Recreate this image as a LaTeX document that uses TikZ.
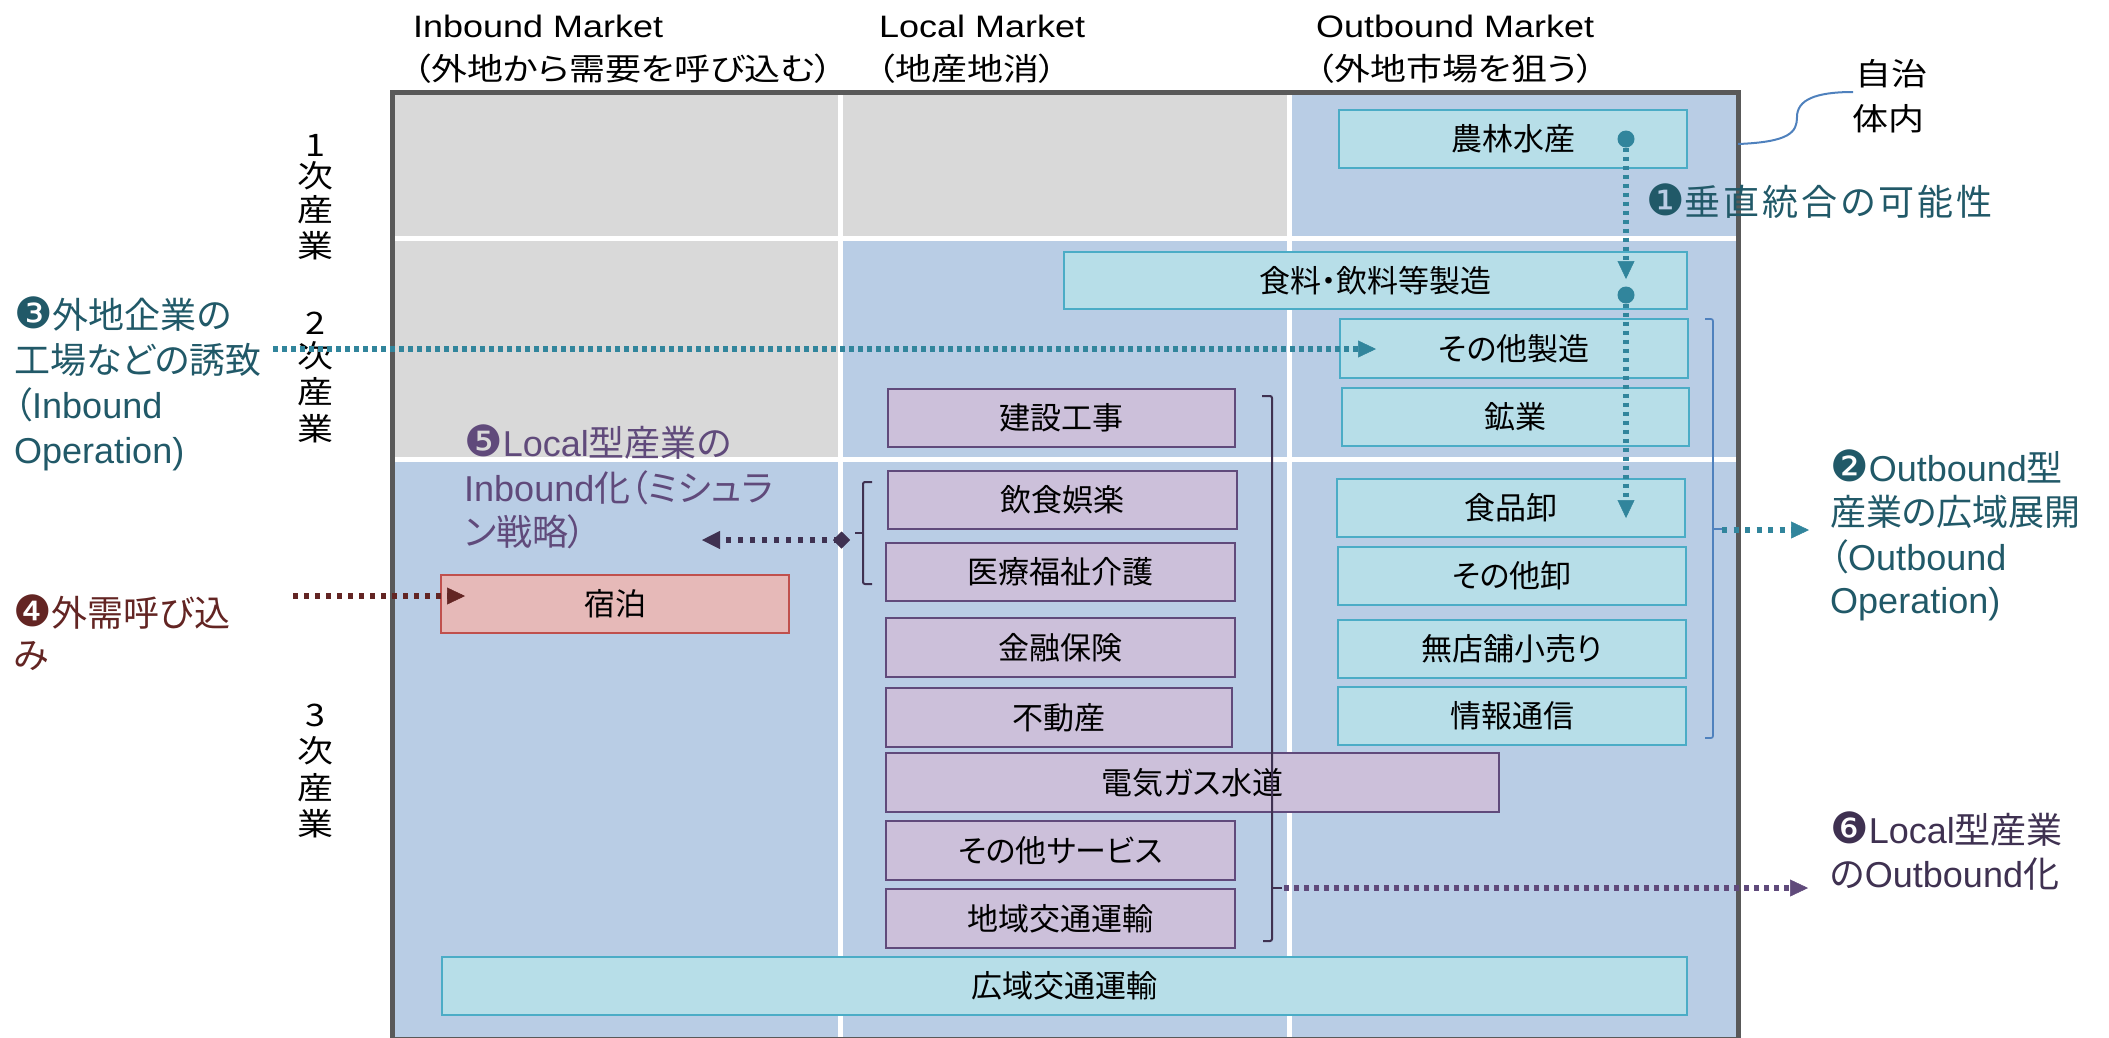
\documentclass[tikz,border=0pt]{standalone}
\usepackage{fontspec}
\setmainfont{Liberation Sans}
\newfontfamily\jp[RawFeature=+palt]{Noto Sans CJK JP}
\newfontfamily\jpw[FakeStretch=1.16,RawFeature=+palt]{Noto Sans CJK JP}
\newfontfamily\enw[FakeStretch=1.16]{Liberation Sans}
\newfontfamily\dv{DejaVu Sans}
\newcommand\cnum[1]{{\dv\fontsize{43}{44}\selectfont #1}}
\usetikzlibrary{arrows.meta}
\definecolor{cellgray}{HTML}{D9D9D9}
\definecolor{cellblue}{HTML}{B9CDE5}
\definecolor{framec}{HTML}{595959}
\definecolor{cboxf}{HTML}{B7DEE8}
\definecolor{cboxb}{HTML}{4BACC6}
\definecolor{pboxf}{HTML}{CCC0DA}
\definecolor{pboxb}{HTML}{604A7B}
\definecolor{rboxf}{HTML}{E6B9B8}
\definecolor{rboxb}{HTML}{C0504D}
\definecolor{tealarr}{HTML}{31859C}
\definecolor{tealtxt}{HTML}{215968}
\definecolor{purtxt}{HTML}{604A7B}
\definecolor{dpur}{HTML}{3F3151}
\definecolor{dred}{HTML}{632523}
\definecolor{brblue}{HTML}{4F81BD}
\tikzset{
  cbox/.style={draw=cboxb, fill=cboxf, line width=2pt, inner sep=0pt, outer sep=0pt, anchor=north west, font=\jp\fontsize{31}{37}\selectfont},
  pbox/.style={cbox, draw=pboxb, fill=pboxf},
  rbox/.style={cbox, draw=rboxb, fill=rboxf},
  hdr/.style={anchor=base west, inner sep=0pt, font=\fontsize{31}{37}\selectfont},
  rowlbl/.style={anchor=center, inner sep=0pt, font=\jpw\fontsize{31}{37}\selectfont},
  ann/.style={anchor=base west, inner sep=0pt, font=\fontsize{36}{44}\selectfont},
  tarr/.style={draw=tealarr, line width=5.5pt, dash pattern=on 4.5pt off 4.5pt, -{Triangle[length=18pt,width=17pt,line width=0.5pt]}},
  parr/.style={draw=dpur, line width=6pt, dash pattern=on 5pt off 7pt, {Diamond[length=17pt,width=17pt,line width=0.5pt]}-{Triangle[length=18pt,width=18pt,line width=0.5pt]}},
  rarr/.style={draw=dred, line width=6pt, dash pattern=on 5pt off 6pt, -{Triangle[length=18pt,width=17pt,line width=0.5pt]}},
  p6arr/.style={draw=pboxb, line width=5.5pt, dash pattern=on 5pt off 5pt, -{Triangle[length=18pt,width=17pt,line width=0.5pt]}},
  dotn/.style={circle, fill=tealarr, minimum size=17pt, inner sep=0pt}
}
\begin{document}
\begin{tikzpicture}[x=1pt,y=-1pt]
\useasboundingbox (0,0) rectangle (2109,1037);
% cells
\fill[cellblue] (392.5,92) rectangle (1738,1037);
\fill[cellgray] (392.5,92) rectangle (1289,238.5);
\fill[cellgray] (392.5,238.5) rectangle (840,459.5);
\draw[white, line width=5pt] (840,92) -- (840,1037) (1289,92) -- (1289,1037)
  (392.5,238.5) -- (1738,238.5) (392.5,459.5) -- (1738,459.5);
\draw[framec, line width=5pt] (392.5,1039) -- (392.5,92) -- (1738,92) -- (1738,1039) -- cycle;

% headers
\node[hdr] (h1a) at (413,37) {\enw Inbound Market};
\node[hdr] (h1b) at (413,80) {\jpw （外地から需要を呼び込む）};
\node[hdr] (h2a) at (879,37) {\enw Local Market};
\node[hdr] (h2b) at (877,80) {\jpw （地産地消）};
\node[hdr] (h3a) at (1316,37) {\enw Outbound Market};
\node[hdr] (h3b) at (1316,80) {\jpw （外地市場を狙う）};
\node[hdr] (jc1) at (1855,85) {\jpw 自治};
\node[hdr] (jc2) at (1852,130) {\jpw 体内};

% row labels
\node[rowlbl] (r1a) at (315,145) {1};
\node[rowlbl] (r1b) at (315,176) {次};
\node[rowlbl] (r1c) at (315,210) {産};
\node[rowlbl] (r1d) at (315,246) {業};
\node[rowlbl] (r2a) at (315,323) {2};
\node[rowlbl] (r2b) at (315,356) {次};
\node[rowlbl] (r2c) at (315,392) {産};
\node[rowlbl] (r2d) at (315,429) {業};
\node[rowlbl] (r3a) at (315,715) {3};
\node[rowlbl] (r3b) at (315,751) {次};
\node[rowlbl] (r3c) at (315,788) {産};
\node[rowlbl] (r3d) at (315,824) {業};

% outbound boxes
\node[cbox, minimum width=348pt, minimum height=58pt] (nourin) at (1339,110) {農林水産};
\node[cbox, minimum width=623pt, minimum height=57pt] (shokuryo) at (1064,252) {食料・飲料等製造};
\node[cbox, minimum width=348pt, minimum height=59pt] (sseizo) at (1340,319) {その他製造};
\node[cbox, minimum width=347pt, minimum height=58pt] (kogyo) at (1342,388) {鉱業};
\node[cbox, minimum width=348pt, minimum height=58pt] (shokuhin) at (1337,479) {食品卸};
\node[cbox, minimum width=348pt, minimum height=58pt] (soroshi) at (1338,547) {その他卸};
\node[cbox, minimum width=348pt, minimum height=58pt] (mutenpo) at (1338,620) {無店舗小売り};
\node[cbox, minimum width=348pt, minimum height=58pt] (joho) at (1338,687) {情報通信};
% local boxes
\node[pbox, minimum width=347pt, minimum height=58pt] (kensetsu) at (888,389) {建設工事};
\node[pbox, minimum width=349pt, minimum height=58pt] (inshoku) at (888,471) {飲食娯楽};
\node[pbox, minimum width=349pt, minimum height=58pt] (iryo) at (886,543) {医療福祉介護};
\node[pbox, minimum width=349pt, minimum height=59pt] (kinyu) at (886,618) {金融保険};
\node[pbox, minimum width=346pt, minimum height=59pt] (fudosan) at (886,688) {不動産};
\node[pbox, minimum width=613pt, minimum height=59pt] (denki) at (886,753) {電気ガス水道};
\node[pbox, minimum width=349pt, minimum height=59pt] (sservice) at (886,821) {その他サービス};
\node[pbox, minimum width=349pt, minimum height=59pt] (chiiki) at (886,889) {地域交通運輸};
% inbound / wide
\node[rbox, minimum width=348pt, minimum height=58pt] (shukuhaku) at (441,575) {宿泊};
\node[cbox, minimum width=1245pt, minimum height=58pt] (koiki) at (442,957) {広域交通運輸};

% brackets
\draw[dpur, line width=2pt, rounded corners=2pt] (872,482) -- (863,482) -- (863,584) -- (872,584);
\draw[dpur, line width=2pt] (863,533) -- (855,533);
\draw[dpur, line width=2pt, rounded corners=2pt] (1262,396) -- (1272,396) -- (1272,941) -- (1263,941);
\draw[dpur, line width=2pt] (1272,888) -- (1282,888);
\draw[brblue, line width=1.7pt, rounded corners=2pt] (1705,319) -- (1713,319) -- (1713,738) -- (1705,738);
\draw[brblue, line width=1.7pt] (1713,529) -- (1722,529);

% callout curve
\coordinate (cv1) at (1738,144);
\coordinate (cv2) at (1853,92);
\draw[brblue, line width=2pt] (cv1) .. controls (1790,142) and (1797,132) .. (1797,117) .. controls (1797,100) and (1815,92) .. (cv2);

% arrows
\node[dotn] (d1) at (1626,139) {};
\node[dotn] (d2) at (1626,295) {};
\coordinate (e1) at (1626,279);
\coordinate (e2) at (1626,518);
\draw[tarr] (d1) -- (e1);
\draw[tarr] (d2) -- (e2);
\coordinate (a3s) at (273,349);
\coordinate (a3e) at (1376,349);
\draw[tarr] (a3s) -- (a3e);
\coordinate (a2s) at (1722,530);
\coordinate (a2e) at (1809,530);
\draw[tarr, dash pattern=on 5pt off 6.5pt] (a2s) -- (a2e);
\coordinate (a5s) at (850,540);
\coordinate (a5e) at (702,540);
\draw[parr] (a5s) -- (a5e);
\coordinate (a4s) at (293,596);
\coordinate (a4e) at (465,596);
\draw[rarr] (a4s) -- (a4e);
\coordinate (a6s) at (1284,888);
\coordinate (a6e) at (1808,888);
\draw[p6arr] (a6s) -- (a6e);

% annotations
\node[ann, text=tealtxt] (t1) at (1646,215) {\cnum{❶}{\jp 垂\kern3pt 直\kern3pt 統\kern3pt 合\kern3pt の\kern3pt 可\kern3pt 能\kern3pt 性}};
\node[ann, text=tealtxt] (t3a) at (14,328) {\cnum{❸}{\jp 外地企業の}};
\node[ann, text=tealtxt] (t3b) at (14,373) {{\jp 工場などの誘致}};
\node[ann, text=tealtxt] (t3c) at (14,418) {{\jp （}Inbound};
\node[ann, text=tealtxt] (t3d) at (14,463) {Operation)};
\node[ann, text=dred] (t4a) at (13,626) {\cnum{❹}{\jp 外需呼び込}};
\node[ann, text=dred] (t4b) at (13,668) {{\jp み}};
\node[ann, text=purtxt] (t5a) at (464,456) {\cnum{❺}Local{\jp 型産業の}};
\node[ann, text=purtxt] (t5b) at (464,501) {Inbound{\jp 化（ミシュラ}};
\node[ann, text=purtxt] (t5c) at (464,545) {{\jp ン戦略）}};
\node[ann, text=tealtxt] (t2a) at (1830,481) {\cnum{❷}Outbound{\jp 型}};
\node[ann, text=tealtxt] (t2b) at (1830,525) {{\jp 産業の広域展開}};
\node[ann, text=tealtxt] (t2c) at (1830,570) {{\jp （}Outbound};
\node[ann, text=tealtxt] (t2d) at (1830,613) {Operation)};
\node[ann, text=dpur] (t6a) at (1830,843) {\cnum{❻}Local{\jp 型産業}};
\node[ann, text=dpur] (t6b) at (1830,887) {{\jp の}Outbound{\jp 化}};
\end{tikzpicture}
\end{document}
